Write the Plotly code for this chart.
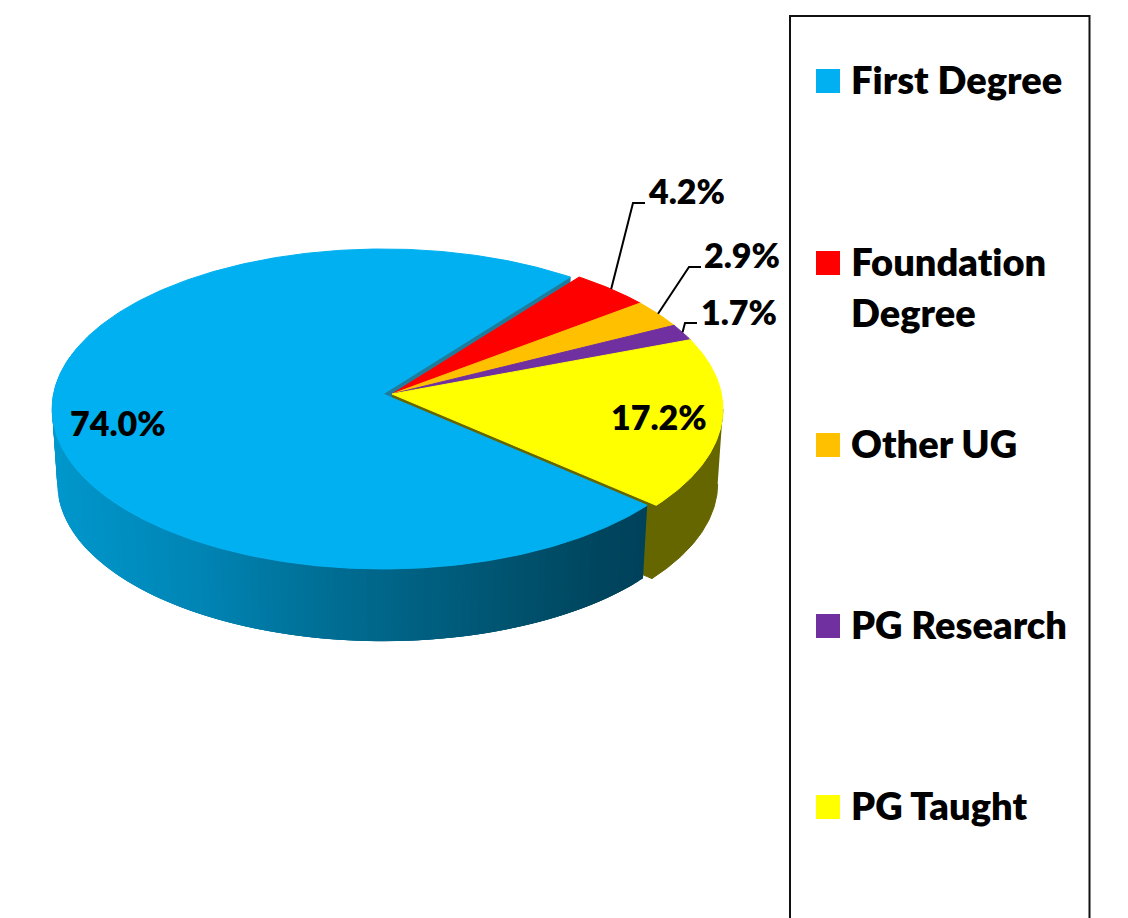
'''
    Perspective pie chart of students by level of study, with an exploded
    first slice. Plotly pies are always circular, so the slices are drawn as
    filled scatter polygons computed from the values.
'''

import math
import plotly.graph_objects as go

CATEGORIES = ["First Degree", "Foundation Degree", "Other UG", "PG Research", "PG Taught"]
VALUES = [74.0, 4.2, 2.9, 1.7, 17.2]
COLORS = ["#00B0F0", "#FF0000", "#FFC000", "#7030A0", "#FFFF00"]

FONT = "Lato"
START_ANGLE = 131.2

# Projection of the pie, in page pixels
CENTER_X, CENTER_Y = 392, 394
EXPLODE_X = -9
RADIUS_X, RADIUS_Y, TILT = 329.5, 158.6, 0.0936
DEPTH, DEPTH_SCALE = 75, 0.984


def top_point(angle, cx):
    '''
        Point of the upper rim, angle in degrees clockwise from 12 o'clock.
    '''
    u = math.sin(math.radians(angle))
    v = math.cos(math.radians(angle))
    d = 1 + TILT * v
    return cx + RADIUS_X * u / d, CENTER_Y - RADIUS_Y * v / d


def lower(point, cx):
    '''
        Moves a point of the top face down to the bottom face of the pie.
    '''
    x, y = point
    return cx + (x - cx) * DEPTH_SCALE, CENTER_Y + DEPTH + (y - CENTER_Y) * DEPTH_SCALE


def add_polygon(fig, points, color, outline=1):
    fig.add_trace(go.Scatter(
        x=[p[0] for p in points],
        y=[p[1] for p in points],
        mode="lines",
        fill="toself",
        fillcolor=color,
        line=dict(color=color, width=outline),
        hoverinfo="skip",
        showlegend=False
    ))


def arc(start, end, cx, step=0.5):
    n = max(2, int(abs(end - start) / step))
    return [top_point(start + (end - start) * i / n, cx) for i in range(n + 1)]


def side_strip(start, end, cx):
    upper = arc(start, end, cx, 0.25)
    return upper + [lower(p, cx) for p in reversed(upper)]


def blue_shade(x):
    # horizontal gradient on the side of the big slice
    stops = [(50, (0, 152, 205)), (200, (0, 133, 181)), (330, (0, 110, 148)),
             (480, (0, 88, 118)), (600, (0, 70, 95)), (650, (0, 66, 90))]
    for (x0, c0), (x1, c1) in zip(stops, stops[1:]):
        if x <= x1:
            t = max(0, (x - x0) / (x1 - x0))
            return "rgb(%d,%d,%d)" % tuple(a + (b - a) * t for a, b in zip(c0, c1))
    return "rgb(0,66,90)"


def slice_angles():
    angles = []
    start = START_ANGLE
    for value in VALUES:
        end = start + value * 3.6
        angles.append((start, end))
        start = end
    return angles


fig = go.Figure()
angles = slice_angles()
blue_cx = CENTER_X + EXPLODE_X
apex = (CENTER_X, CENTER_Y)
blue_apex = (blue_cx, CENTER_Y)

# inner wall of the big slice, seen in the gap next to the red slice
blue_end = top_point(angles[0][1], blue_cx)
add_polygon(fig, [blue_apex, blue_end, lower(blue_end, blue_cx), lower(blue_apex, blue_cx)], "#1F7C9C")

# inner wall and side of the yellow slice, side starts where the rim is widest
yellow_end_angle = angles[4][1] - 360
yellow_end = top_point(yellow_end_angle, CENTER_X)
silhouette_angle = math.degrees(math.acos(-TILT))
add_polygon(fig, [apex, yellow_end, lower(yellow_end, CENTER_X), lower(apex, CENTER_X)], "#666600")
add_polygon(fig, side_strip(silhouette_angle, yellow_end_angle, CENTER_X), "#666600")

# side of the big slice, cut in overlapping strips for the gradient
side_start = angles[0][0]
side_end = 285
n_strips = 120
strip_width = (side_end - side_start) / n_strips
for i in range(n_strips):
    a0 = side_start + strip_width * i
    a1 = side_end if i == n_strips - 1 else a0 + strip_width * 3
    mid_x = top_point(a0 + strip_width / 2, blue_cx)[0]
    add_polygon(fig, side_strip(a0, a1, blue_cx), blue_shade(mid_x), outline=0)

# top faces
for i, (start, end) in enumerate(angles):
    cx = blue_cx if i == 0 else CENTER_X
    add_polygon(fig, [(cx, CENTER_Y)] + arc(start, end, cx) + [(cx, CENTER_Y)], COLORS[i])

# leader lines
for i, elbow in [(1, [(633, 203), (645, 203)]), (2, [(689, 267), (701, 267)]), (3, [(685, 323), (697, 323)])]:
    mid = top_point(sum(angles[i]) / 2, CENTER_X)
    points = [mid] + elbow
    fig.add_trace(go.Scatter(
        x=[p[0] for p in points],
        y=[p[1] for p in points],
        mode="lines",
        line=dict(color="black", width=2),
        hoverinfo="skip",
        showlegend=False
    ))

# value labels
label_positions = [(118, 422), (686, 190), (742, 254), (739, 311), (659, 416)]
annotations = []
for value, (x, y) in zip(VALUES, label_positions):
    annotations.append(dict(
        x=x, y=y, xref="x", yref="y",
        text="%.1f%%" % value,
        showarrow=False,
        xanchor="center", yanchor="middle",
        font=dict(family=FONT, size=34, color="black", weight=800)
    ))

# legend
legend_y = [81, 263, 445, 626, 807]
legend_lines = [["First Degree"], ["Foundation", "Degree"], ["Other UG"], ["PG Research"], ["PG Taught"]]
fig.add_trace(go.Scatter(
    x=[828] * len(CATEGORIES),
    y=legend_y,
    mode="markers",
    marker=dict(symbol="square", size=24, color=COLORS, line=dict(width=0)),
    hoverinfo="skip",
    showlegend=False
))
for y, lines in zip(legend_y, legend_lines):
    for j, line in enumerate(lines):
        annotations.append(dict(
            x=849, y=y + j * 51 - 2, xref="x", yref="y",
            text=line,
            showarrow=False,
            xanchor="left", yanchor="middle",
            font=dict(family=FONT, size=38, color="black", weight=800)
        ))

fig.update_layout(
    width=1128,
    height=918,
    margin=dict(l=0, r=0, t=0, b=0),
    paper_bgcolor="white",
    plot_bgcolor="white",
    showlegend=False,
    annotations=annotations,
    xaxis=dict(range=[0, 1128], visible=False, fixedrange=True),
    yaxis=dict(range=[918, 0], visible=False, fixedrange=True),
    shapes=[dict(type="rect", xref="x", yref="y", x0=790, x1=1089.5, y0=16, y1=940,
                 line=dict(color="#111111", width=2), layer="below")]
)

# no ti ligature in the legend text
post_script = """
document.body.style.margin = '0';
var s = document.createElement('style');
s.textContent = 'text { font-variant-ligatures: none !important; letter-spacing: 0.01px; }';
document.head.appendChild(s);
"""
fig.write_html("out.html", post_script=post_script, config=dict(displayModeBar=False))
